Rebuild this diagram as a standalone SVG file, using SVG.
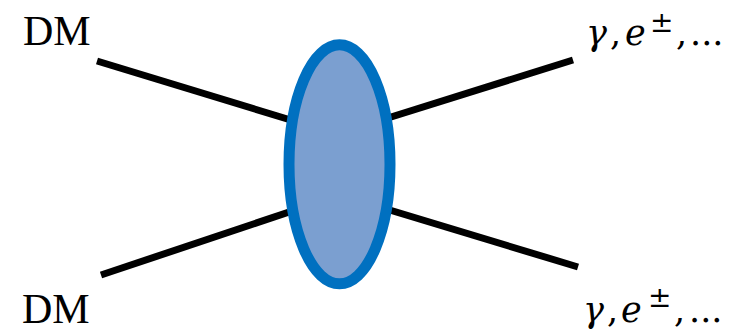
<svg xmlns="http://www.w3.org/2000/svg" width="732" height="334" viewBox="0 0 732 334">
<style>
.line{stroke:#000;stroke-width:7;fill:none}
.dm{font-family:"Liberation Serif",serif;font-size:42px;fill:#000}
.lab{font-family:"DejaVu Serif",serif;font-size:35px;fill:#000}
.it{font-style:italic}
.sup{font-size:28px}
</style>
<rect width="732" height="334" fill="#fff"/>
<g id="connectors">
<line class="line" x1="97" y1="61" x2="340" y2="135"/>
<line class="line" x1="573" y1="60" x2="340" y2="133"/>
<line class="line" x1="101" y1="275" x2="340" y2="195"/>
<line class="line" x1="578" y1="267" x2="340" y2="195"/>
</g>
<g id="blob">
<ellipse cx="339.5" cy="164.3" rx="50.5" ry="119.5" fill="#7b9fd0" stroke="#0070c0" stroke-width="11"/>
</g>
<g id="dm-top"><text class="dm" x="23" y="45">DM</text></g>
<g id="dm-bottom"><text class="dm" x="22" y="323">DM</text></g>
<g id="out-top">
<text class="lab" x="586" y="45"><tspan class="it">γ</tspan><tspan x="610">,</tspan><tspan class="it" x="625">e</tspan><tspan class="sup" x="650" y="32">±</tspan><tspan x="676" y="45">,</tspan><tspan x="690">...</tspan></text>
</g>
<g id="out-bottom">
<text class="lab" x="583" y="322"><tspan class="it">γ</tspan><tspan x="607">,</tspan><tspan class="it" x="621">e</tspan><tspan class="sup" x="648" y="307">±</tspan><tspan x="674" y="322">,</tspan><tspan x="689">...</tspan></text>
</g>
</svg>
